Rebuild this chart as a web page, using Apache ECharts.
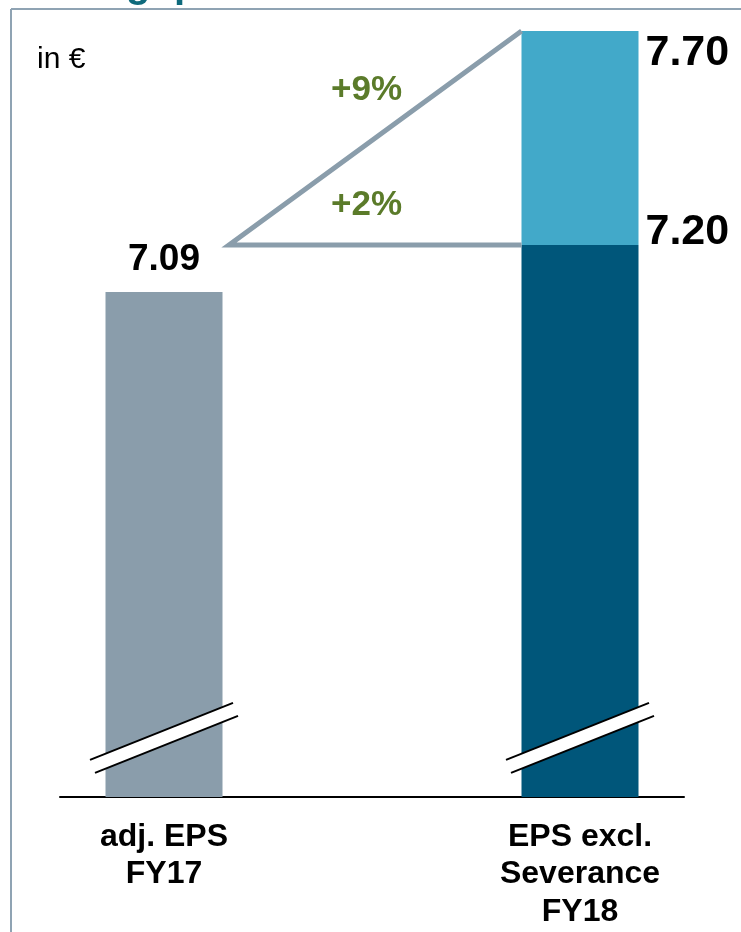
<!DOCTYPE html>
<html><head><meta charset="utf-8">
<script src="https://cdn.jsdelivr.net/npm/echarts@6/dist/echarts.min.js"></script>
<style>html,body{margin:0;padding:0;background:#fff}#c{width:741px;height:932px}</style>
</head><body><div id="c"></div>
<script>
// ---- data ----
const categories = ['adj. EPS\nFY17', '', 'EPS excl.\nSeverance\nFY18'];
const baseValues = [7.09, null, 7.20];
const totalValues = [null, null, 7.70];
const growthLabels = ['+9%', '+2%'];
const unitLabel = 'in €';

// ---- styles ----
const FONT = '"Liberation Sans", Arial, sans-serif';
const Y_MIN = 5.91, Y_MAX = 7.70;
const BREAK_LEVEL = 6.048;
const baseColors = ['#8a9dab', null, '#00567a'];
const incColor = '#42a9c9';
const lineColor = '#8a9dab';
const green = '#5b7b2a';

const incrementValues = totalValues.map((t, i) => t == null ? '-' : +(t - baseValues[i]).toFixed(2));

const chart = echarts.init(document.getElementById('c'));

// triangle anchor on the hidden value x axis (0..3 spans the three category slots)
const triStartX = 0.8125, triEndX = 2.219;
const pctAnchors = [[1.474, 7.562], [1.474, 7.292]];

const option = {
  animation: false,
  title: {
    text: unitLabel, left: 32, top: 40,
    textStyle: { fontFamily: FONT, fontSize: 30, fontWeight: 'normal', color: '#000' }
  },
  grid: { left: 60, right: 57, top: 31, bottom: 135 },
  xAxis: [
    {
      type: 'category', data: categories,
      axisLine: { lineStyle: { color: '#000', width: 2 } },
      axisTick: { show: false },
      axisLabel: {
        interval: 0, fontFamily: FONT, fontSize: 32, fontWeight: 'bold',
        color: '#000', lineHeight: 37.5, margin: 21
      }
    },
    { type: 'value', min: 0, max: 3, show: false }
  ],
  yAxis: { type: 'value', min: Y_MIN, max: Y_MAX, show: false },
  graphic: [
    { type: 'line', shape: { x1: 11, y1: 9, x2: 741, y2: 9 }, style: { stroke: '#8fa3b3', lineWidth: 2 } },
    { type: 'line', shape: { x1: 11, y1: 9, x2: 11, y2: 932 }, style: { stroke: '#8fa3b3', lineWidth: 2 } },
    { type: 'text', x: 126, y: -34, style: { text: 'g', font: 'bold 40px "Liberation Sans"', fill: '#0e6a7c' } },
    { type: 'text', x: 174, y: -34, style: { text: 'p', font: 'bold 40px "Liberation Sans"', fill: '#0e6a7c' } }
  ],
  series: [
    {
      type: 'bar', stack: 'eps', barWidth: 117, z: 2,
      data: baseValues.map((v, i) => v == null ? '-' : {
        value: v,
        itemStyle: { color: baseColors[i] },
        label: i === 0
          ? { show: true, position: 'top', distance: 14, fontSize: 37 }
          : { show: true, position: [124, -13], align: 'left', verticalAlign: 'middle', fontSize: 43 }
      }),
      label: { fontFamily: FONT, fontWeight: 'bold', color: '#000', formatter: p => Number(p.value).toFixed(2) }
    },
    {
      type: 'bar', stack: 'eps', barWidth: 117, z: 2,
      itemStyle: { color: incColor },
      data: incrementValues,
      label: {
        show: true, position: [124, 22], align: 'left', verticalAlign: 'middle',
        fontFamily: FONT, fontWeight: 'bold', fontSize: 43, color: '#000',
        formatter: p => totalValues[p.dataIndex].toFixed(2)
      }
    },
    {
      type: 'line', xAxisIndex: 1, yAxisIndex: 0, z: 3, clip: false,
      symbol: 'none', lineStyle: { color: lineColor, width: 5, cap: 'butt', join: 'miter' },
      data: [[triEndX, totalValues[2]], [triStartX, baseValues[2]], [triEndX, baseValues[2]]]
    },
    {
      type: 'scatter', xAxisIndex: 1, yAxisIndex: 0, symbolSize: 0, z: 4,
      itemStyle: { opacity: 1 },
      data: growthLabels.map((t, i) => [pctAnchors[i][0], pctAnchors[i][1], t]),
      label: {
        show: true, position: 'inside', formatter: p => p.value[2], opacity: 1,
        fontFamily: FONT, fontWeight: 'bold', fontSize: 35, color: green
      }
    },
    {
      type: 'custom', xAxisIndex: 0, yAxisIndex: 0, z: 5, clip: false,
      data: baseValues.map((v, i) => v == null ? null : [i, BREAK_LEVEL]).filter(d => d),
      renderItem: function (params, api) {
        const c = api.coord([api.value(0), api.value(1)]);
        const cx = c[0], cy = c[1];
        const a1 = [cx - 74, cy + 22], b1 = [cx + 69, cy - 35];
        const a2 = [cx - 69, cy + 35], b2 = [cx + 74, cy - 22];
        return {
          type: 'group',
          children: [
            { type: 'polygon', shape: { points: [a1, b1, b2, a2] }, style: { fill: '#fff' } },
            { type: 'line', shape: { x1: a1[0], y1: a1[1], x2: b1[0], y2: b1[1] }, style: { stroke: '#000', lineWidth: 2 } },
            { type: 'line', shape: { x1: a2[0], y1: a2[1], x2: b2[0], y2: b2[1] }, style: { stroke: '#000', lineWidth: 2 } }
          ]
        };
      }
    }
  ]
};
chart.setOption(option);
</script>
</body></html>
